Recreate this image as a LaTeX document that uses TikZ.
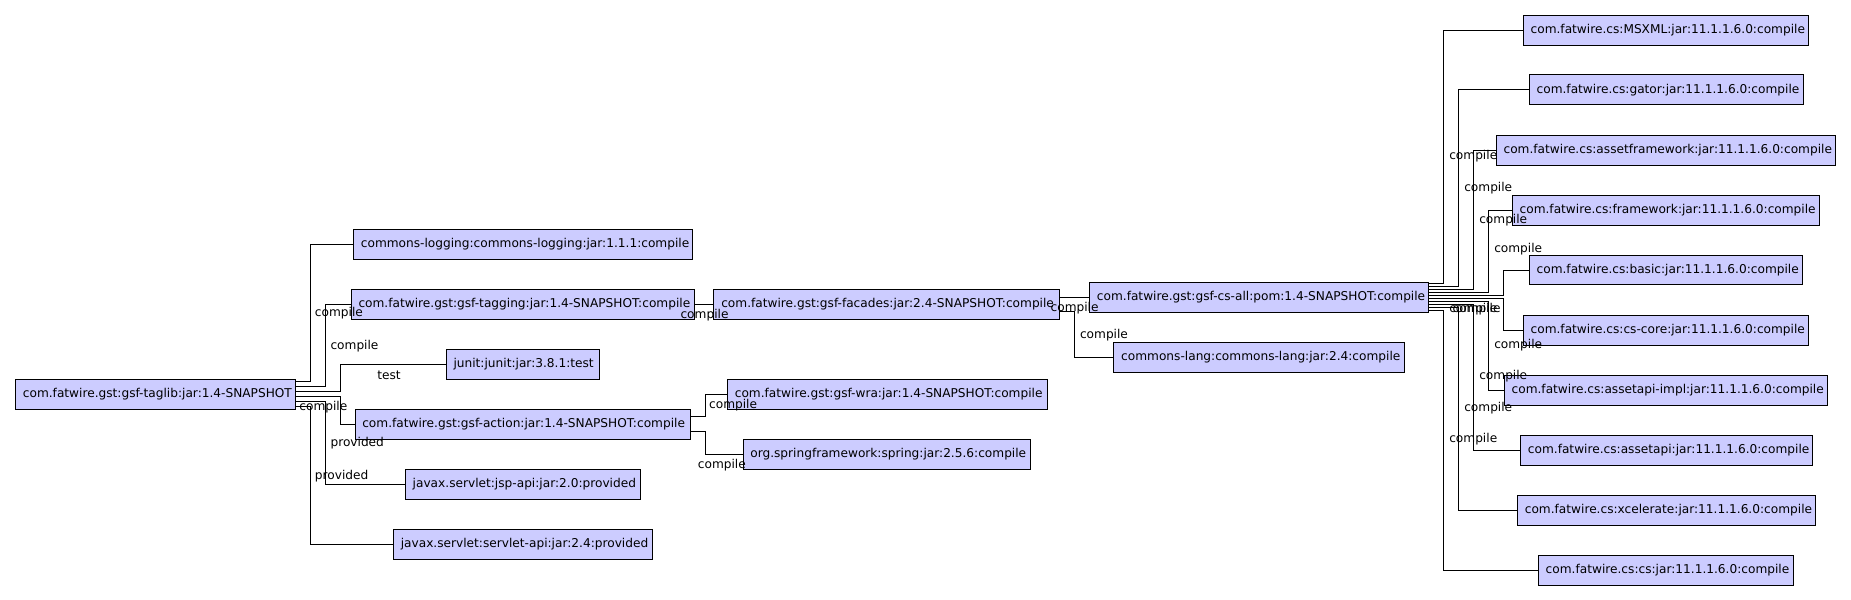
\documentclass[tikz,border=0pt]{standalone}
\usepackage{fontspec}
\setmainfont{DejaVu Sans}
\definecolor{boxfill}{RGB}{204,204,255}
\newcommand\depbox[5]{\node[dep] (#1) at (#2,#3) {\makebox[\dimexpr#4pt-#2pt\relax][l]{\hspace{6.2pt}#5}};}
\begin{document}
\begin{tikzpicture}[x=1pt,y=-1pt,
  dep/.style={draw=black, fill=boxfill, line width=0.8pt, minimum height=25.4pt, inner sep=0pt, outer sep=0pt, anchor=west},
  conn/.style={draw=black, line width=0.8pt},
  lbl/.style={anchor=west, inner sep=0pt, outer sep=0pt, text=black},
  font=\fontsize{10.3}{12}\selectfont]
\useasboundingbox (0,0) rectangle (1568,508);
% boxes
\depbox{taglib}{13.2}{334.0}{250.1}{com.fatwire.gst:gsf-taglib:jar:1.4-SNAPSHOT}
\depbox{clog}{299.5}{207.0}{586.5}{commons-logging:commons-logging:jar:1.1.1:compile}
\depbox{tagging}{297.5}{257.8}{588.1}{com.fatwire.gst:gsf-tagging:jar:1.4-SNAPSHOT:compile}
\depbox{junit}{378.0}{308.6}{507.6}{junit:junit:jar:3.8.1:test}
\depbox{action}{300.7}{359.4}{584.6}{com.fatwire.gst:gsf-action:jar:1.4-SNAPSHOT:compile}
\depbox{jsp}{343.4}{410.3}{542.2}{javax.servlet:jsp-api:jar:2.0:provided}
\depbox{servlet}{333.3}{461.1}{552.3}{javax.servlet:servlet-api:jar:2.4:provided}
\depbox{facades}{604.8}{257.8}{897.5}{com.fatwire.gst:gsf-facades:jar:2.4-SNAPSHOT:compile}
\depbox{csall}{923.0}{251.9}{1210.4}{com.fatwire.gst:gsf-cs-all:pom:1.4-SNAPSHOT:compile}
\depbox{clang}{943.6}{302.7}{1189.9}{commons-lang:commons-lang:jar:2.4:compile}
\depbox{wra}{616.3}{334.0}{886.9}{com.fatwire.gst:gsf-wra:jar:1.4-SNAPSHOT:compile}
\depbox{spring}{629.4}{384.8}{872.9}{org.springframework:spring:jar:2.5.6:compile}
\depbox{msxml}{1290.4}{25.4}{1531.8}{com.fatwire.cs:MSXML:jar:11.1.1.6.0:compile}
\depbox{gator}{1295.5}{76.2}{1527.6}{com.fatwire.cs:gator:jar:11.1.1.6.0:compile}
\depbox{assetfw}{1267.5}{127.1}{1554.7}{com.fatwire.cs:assetframework:jar:11.1.1.6.0:compile}
\depbox{fw}{1281.1}{177.9}{1541.2}{com.fatwire.cs:framework:jar:11.1.1.6.0:compile}
\depbox{basic}{1295.5}{228.7}{1526.8}{com.fatwire.cs:basic:jar:11.1.1.6.0:compile}
\depbox{cscore}{1290.4}{279.6}{1531.8}{com.fatwire.cs:cs-core:jar:11.1.1.6.0:compile}
\depbox{aimpl}{1274.3}{330.4}{1547.9}{com.fatwire.cs:assetapi-impl:jar:11.1.1.6.0:compile}
\depbox{aapi}{1288.1}{381.2}{1535.4}{com.fatwire.cs:assetapi:jar:11.1.1.6.0:compile}
\depbox{xcel}{1285.5}{432.1}{1537.9}{com.fatwire.cs:xcelerate:jar:11.1.1.6.0:compile}
\depbox{cs}{1303.2}{482.9}{1519.2}{com.fatwire.cs:cs:jar:11.1.1.6.0:compile}
% connectors from taglib
\draw[conn] ([yshift=-2.12pt]taglib.north east) -- ++(12.7,0) |- (clog.west);
\draw[conn] ([yshift=-6.35pt]taglib.north east) -- ++(25.4,0) |- (tagging.west);
\draw[conn] ([yshift=-10.58pt]taglib.north east) -- ++(38.1,0) |- (junit.west);
\draw[conn] ([yshift=-14.82pt]taglib.north east) -- ++(38.1,0) |- (action.west);
\draw[conn] ([yshift=-19.05pt]taglib.north east) -- ++(25.4,0) |- (jsp.west);
\draw[conn] ([yshift=-23.28pt]taglib.north east) -- ++(12.7,0) |- (servlet.west);
% tagging / facades / action
\draw[conn] (tagging.east) -- (facades.west);
\draw[conn] (csall.west -| facades.east) -- (csall.west);
\draw[conn] ([yshift=-19.05pt]facades.north east) -- ++(12.7,0) |- (clang.west);
\draw[conn] ([yshift=-6.35pt]action.north east) -- ++(12.7,0) |- (wra.west);
\draw[conn] ([yshift=-19.05pt]action.north east) -- ++(12.7,0) |- (spring.west);
% connectors from cs-all
\draw[conn] ([yshift=-1.27pt]csall.north east) -- ++(12.7,0) |- (msxml.west);
\draw[conn] ([yshift=-3.81pt]csall.north east) -- ++(25.4,0) |- (gator.west);
\draw[conn] ([yshift=-6.35pt]csall.north east) -- ++(38.1,0) |- (assetfw.west);
\draw[conn] ([yshift=-8.89pt]csall.north east) -- ++(50.8,0) |- (fw.west);
\draw[conn] ([yshift=-11.43pt]csall.north east) -- ++(63.5,0) |- (basic.west);
\draw[conn] ([yshift=-13.97pt]csall.north east) -- ++(63.5,0) |- (cscore.west);
\draw[conn] ([yshift=-16.51pt]csall.north east) -- ++(50.8,0) |- (aimpl.west);
\draw[conn] ([yshift=-19.05pt]csall.north east) -- ++(38.1,0) |- (aapi.west);
\draw[conn] ([yshift=-21.59pt]csall.north east) -- ++(25.4,0) |- (xcel.west);
\draw[conn] ([yshift=-24.13pt]csall.north east) -- ++(12.7,0) |- (cs.west);
% labels
\node[lbl] (la1) at (266.8,265.4) {compile};
\node[lbl] (la2) at (280.0,292.8) {compile};
\node[lbl] (la3) at (319.7,317.9) {test};
\node[lbl] (la4) at (253.6,345.3) {compile};
\node[lbl] (la5) at (280.0,375.0) {provided};
\node[lbl] (la6) at (266.8,403.2) {provided};
\node[lbl] (lb1) at (576.5,267.0) {compile};
\node[lbl] (lb2) at (890.0,261.0) {compile};
\node[lbl] (lb3) at (914.9,283.8) {compile};
\node[lbl] (lb4) at (600.7,343.6) {compile};
\node[lbl] (lb5) at (591.2,393.9) {compile};
\node[lbl] (lc1) at (1227.7,132.2) {compile};
\node[lbl] (lc2) at (1240.4,159.0) {compile};
\node[lbl] (lc3) at (1253.1,186.4) {compile};
\node[lbl] (lc4) at (1265.8,211.2) {compile};
\node[lbl] (lc5) at (1227.7,261.8) {compile};
\node[lbl] (lc6) at (1230.5,261.8) {compile};
\node[lbl] (lc7) at (1265.8,292.0) {compile};
\node[lbl] (lc8) at (1253.1,319.0) {compile};
\node[lbl] (lc9) at (1240.4,345.9) {compile};
\node[lbl] (lc10) at (1227.7,372.0) {compile};
\end{tikzpicture}
\end{document}
